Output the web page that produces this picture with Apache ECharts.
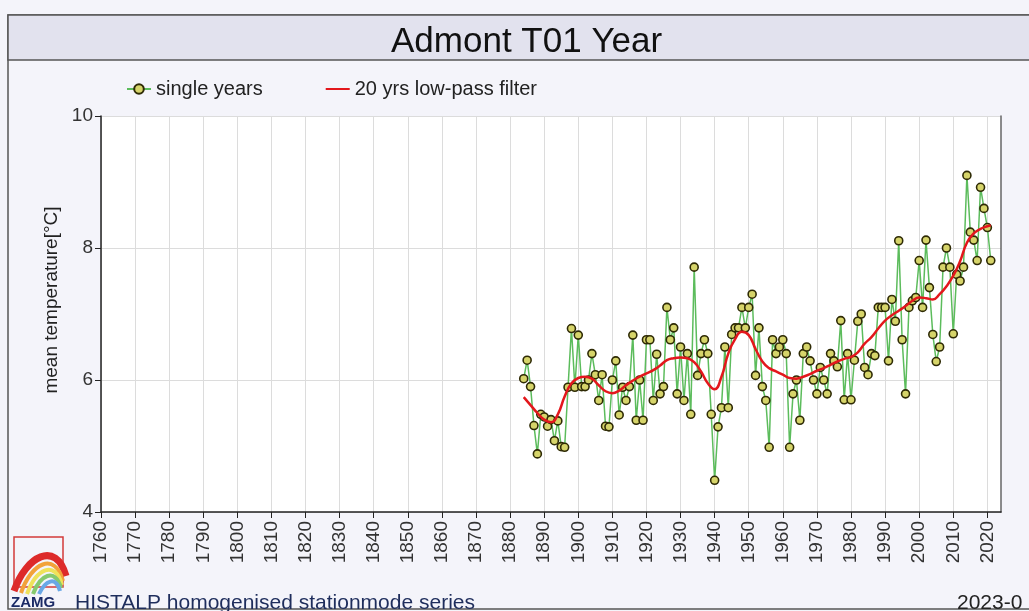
<!DOCTYPE html>
<html>
<head>
<meta charset="utf-8">
<script src="https://cdn.jsdelivr.net/npm/echarts@6/dist/echarts.min.js"></script>
<style>
html,body{margin:0;padding:0;background:#f4f4fa;}
#chart{width:1029px;height:611px;}
</style>
</head>
<body>
<div id="chart"></div>
<script>
// ---- data ----
const years = [1884,1885,1886,1887,1888,1889,1890,1891,1892,1893,1894,1895,1896,1897,1898,1899,
1900,1901,1902,1903,1904,1905,1906,1907,1908,1909,1910,1911,1912,1913,1914,1915,1916,1917,1918,1919,
1920,1921,1922,1923,1924,1925,1926,1927,1928,1929,1930,1931,1932,1933,1934,1935,1936,1937,1938,1939,
1940,1941,1942,1943,1944,1945,1946,1947,1948,1949,1950,1951,1952,1953,1954,1955,1956,1957,1958,1959,
1960,1961,1962,1963,1964,1965,1966,1967,1968,1969,1970,1971,1972,1973,1974,1975,1976,1977,1978,1979,
1980,1981,1982,1983,1984,1985,1986,1987,1988,1989,1990,1991,1992,1993,1994,1995,1996,1997,1998,1999,
2000,2001,2002,2003,2004,2005,2006,2007,2008,2009,2010,2011,2012,2013,2014,2015,2016,2017,2018,2019,
2020,2021];
const singleYears = [6.02,6.30,5.90,5.31,4.88,5.48,5.44,5.30,5.40,5.08,5.38,4.99,4.98,5.89,6.78,5.89,
6.68,5.90,5.90,6.00,6.40,6.08,5.69,6.08,5.30,5.29,6.00,6.29,5.47,5.89,5.69,5.90,6.68,5.39,6.00,5.39,
6.61,6.61,5.69,6.39,5.79,5.90,7.10,6.61,6.79,5.79,6.50,5.69,6.40,5.48,7.71,6.07,6.40,6.61,6.40,5.48,
4.48,5.29,5.58,6.50,5.58,6.69,6.79,6.79,7.10,6.79,7.10,7.30,6.07,6.79,5.90,5.69,4.98,6.61,6.40,6.50,
6.61,6.40,4.98,5.79,6.00,5.39,6.40,6.50,6.29,6.00,5.79,6.19,6.00,5.79,6.40,6.29,6.20,6.90,5.70,6.40,
5.70,6.30,6.89,7.00,6.19,6.08,6.40,6.37,7.10,7.10,7.10,6.29,7.22,6.89,8.11,6.61,5.79,7.10,7.20,7.25,
7.81,7.10,8.12,7.40,6.69,6.28,6.50,7.71,8.00,7.71,6.70,7.60,7.50,7.71,9.10,8.24,8.12,7.81,8.92,8.60,
8.31,7.81];
const filterYears = [1884,1886,1888,1890,1892,1894,1896,1898,1900,1902,1904,1906,1908,1910,1912,1914,
1916,1918,1920,1922,1924,1926,1928,1930,1932,1934,1936,1938,1940,1942,1944,1946,1948,1950,1952,1954,
1956,1958,1960,1962,1964,1966,1968,1970,1972,1974,1976,1978,1980,1982,1984,1986,1988,1990,1992,1994,
1996,1998,2000,2002,2004,2006,2008,2010,2012,2014,2016,2018,2020,2021];
const lowPass = [5.74,5.62,5.50,5.40,5.36,5.48,5.75,5.95,6.03,6.05,6.02,5.92,5.83,5.80,5.84,5.92,
5.99,6.05,6.10,6.15,6.22,6.30,6.33,6.34,6.33,6.27,6.13,5.95,5.86,6.05,6.40,6.62,6.73,6.68,6.47,6.28,
6.18,6.13,6.08,6.03,6.02,6.05,6.09,6.14,6.18,6.23,6.28,6.32,6.35,6.42,6.55,6.65,6.78,6.90,6.98,7.05,
7.12,7.20,7.25,7.24,7.22,7.30,7.42,7.58,7.80,8.08,8.22,8.29,8.33,8.34];
const xTickYears = [1760,1770,1780,1790,1800,1810,1820,1830,1840,1850,1860,1870,1880,1890,1900,1910,
1920,1930,1940,1950,1960,1970,1980,1990,2000,2010,2020];
const yTicks = [4,6,8,10];

const FONT = '"Liberation Sans", Arial, sans-serif';
const chart = echarts.init(document.getElementById('chart'), null, {renderer:'canvas'});

const singleData = years.map((y,i)=>[y, singleYears[i]]);
const filterData = filterYears.map((y,i)=>[y, lowPass[i]]);

chart.setOption({
  backgroundColor: '#f4f4fa',
  animation: false,
  title: {
    text: 'Admont T01 Year',
    left: 386, top: 20,
    textStyle: {fontFamily: FONT, fontSize: 35, fontWeight: 'normal', color: '#111'}
  },
  legend: {
    left: 126, top: 79,
    itemWidth: 24, itemHeight: 12, itemGap: 62,
    padding: 0,
    textStyle: {fontFamily: FONT, fontSize: 20, color: '#222'},
    data: [
      {name: 'single years'},
      {name: '20 yrs low-pass filter', itemStyle: {opacity: 0}}
    ]
  },
  grid: {
    left: 101, right: 28, top: 116, bottom: 99,
    show: true, backgroundColor: '#ffffff', borderWidth: 0
  },
  xAxis: {
    type: 'value', min: 1760, max: 2024, interval: 10,
    axisLine: {show: true, lineStyle: {color: '#222', width: 1.5}},
    axisTick: {show: true, length: 6, customValues: xTickYears, lineStyle: {color: '#222'}},
    axisLabel: {
      rotate: 90, margin: 9, fontFamily: FONT, fontSize: 19, color: '#333',
      customValues: xTickYears,
      formatter: v => (v % 10 === 0 ? String(v) : '')
    },
    splitLine: {show: true, lineStyle: {color: '#dcdcdc', width: 1}}
  },
  yAxis: [{
    type: 'value', min: 4, max: 10, interval: 2,
    name: 'mean temperature[°C]', nameLocation: 'middle', nameGap: 40,
    nameTextStyle: {fontFamily: FONT, fontSize: 19, color: '#222', padding: [0,0,0,28]},
    axisLine: {show: true, lineStyle: {color: '#222', width: 1.5}},
    axisTick: {show: true, length: 6, lineStyle: {color: '#222'}},
    axisLabel: {margin: 8, fontFamily: FONT, fontSize: 19, color: '#333'},
    splitLine: {show: true, lineStyle: {color: '#dcdcdc', width: 1}}
  }, {
    type: 'value', min: 4, max: 10, interval: 2, position: 'right',
    axisLine: {show: true, lineStyle: {color: '#666', width: 1.5}},
    axisTick: {show: false}, axisLabel: {show: false}, splitLine: {show: false}
  }],
  series: [{
    name: 'single years', type: 'line', data: singleData, z: 2,
    symbol: 'circle', symbolSize: 8,
    lineStyle: {color: '#5cbc5c', width: 1.5},
    itemStyle: {color: '#d6d46a', borderColor: '#2e2a05', borderWidth: 1.6}
  }, {
    name: '20 yrs low-pass filter', type: 'line', data: filterData, z: 3,
    smooth: 0.5, symbol: 'none',
    lineStyle: {color: '#e3171c', width: 2.5},
    itemStyle: {color: '#e3171c'}
  }],
  graphic: [
    {type: 'rect', z: -10, shape: {x: 8, y: 15, width: 1040, height: 45},
     style: {fill: '#e2e2ee', stroke: '#555', lineWidth: 1.5}},
    {type: 'rect', z: -11, shape: {x: 8, y: 15, width: 1040, height: 594},
     style: {fill: 'none', stroke: '#555', lineWidth: 1.5}},
    // ZAMG logo
    {type: 'rect', shape: {x: 14, y: 537, width: 49, height: 50},
     style: {fill: 'none', stroke: '#d23a3a', lineWidth: 1.5}},
    {type: 'bezierCurve', shape: {x1: 14, y1: 591, cpx1: 26, cpy1: 556, cpx2: 56, cpy2: 540, x2: 66, y2: 576},
     style: {stroke: '#dd2a2a', lineWidth: 7, fill: 'none'}},
    {type: 'bezierCurve', shape: {x1: 21, y1: 593, cpx1: 31, cpy1: 563, cpx2: 55, cpy2: 551, x2: 63, y2: 581},
     style: {stroke: '#f2a23a', lineWidth: 4, fill: 'none'}},
    {type: 'bezierCurve', shape: {x1: 27, y1: 594, cpx1: 36, cpy1: 569, cpx2: 55, cpy2: 559, x2: 62, y2: 585},
     style: {stroke: '#efe25a', lineWidth: 4, fill: 'none'}},
    {type: 'bezierCurve', shape: {x1: 33, y1: 594, cpx1: 40, cpy1: 575, cpx2: 55, cpy2: 567, x2: 61, y2: 588},
     style: {stroke: '#86c96e', lineWidth: 4, fill: 'none'}},
    {type: 'bezierCurve', shape: {x1: 39, y1: 594, cpx1: 45, cpy1: 581, cpx2: 56, cpy2: 575, x2: 60, y2: 591},
     style: {stroke: '#6aa8e6', lineWidth: 4, fill: 'none'}},
    {type: 'text', x: 11, y: 603,
     style: {text: 'ZAMG', fontFamily: FONT, fontSize: 15, fontWeight: 'bold', fill: '#1b2a66', textVerticalAlign: 'middle'}},
    {type: 'text', x: 75, y: 603,
     style: {text: 'HISTALP homogenised stationmode series', fontFamily: FONT, fontSize: 21, fill: '#1e2d5c', textVerticalAlign: 'middle'}},
    {type: 'text', x: 957, y: 603,
     style: {text: '2023-0', fontFamily: FONT, fontSize: 21, fill: '#222', textVerticalAlign: 'middle'}}
  ]
});
</script>
</body>
</html>
